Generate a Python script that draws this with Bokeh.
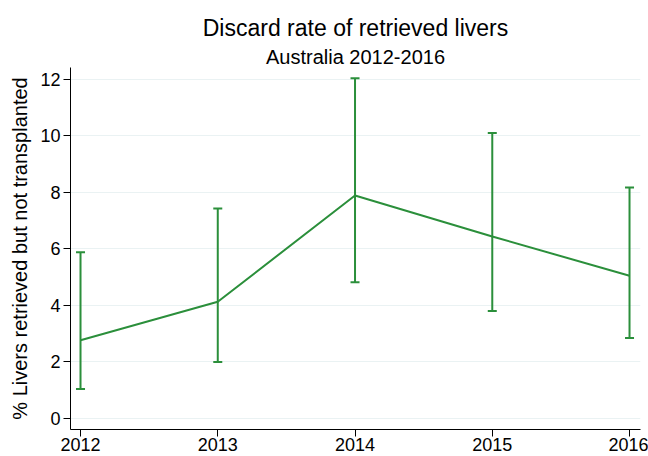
from bokeh.plotting import figure
from bokeh.models import ColumnDataSource, Whisker, TeeHead, Title, Range1d
from bokeh.embed import file_html
from bokeh.resources import INLINE

years = [2012, 2013, 2014, 2015, 2016]
rate = [2.77, 4.13, 7.89, 6.44, 5.05]
lower = [1.04, 2.0, 4.82, 3.8, 2.85]
upper = [5.88, 7.43, 12.04, 10.1, 8.17]
y_ticks = [0, 2, 4, 6, 8, 10, 12]

GREEN = "#2b8f3b"
FONT = "Liberation Sans"

src = ColumnDataSource(dict(x=years, y=rate, lo=lower, hi=upper))

p = figure(frame_width=570, frame_height=362, output_backend="svg", toolbar_location=None,
           x_range=Range1d(2011.927, 2016.08), y_range=Range1d(-0.39, 12.42),
           min_border_left=70, min_border_right=8, min_border_top=67, min_border_bottom=27)

p.title = None
sub = Title(text="Australia 2012-2016", align="center", text_font=FONT,
            text_font_size="20px", text_font_style="normal", text_color="#000000",
            standoff=0)
ttl = Title(text="Discard rate of retrieved livers", align="center", text_font=FONT,
            text_font_size="23px", text_font_style="normal", text_color="#000000",
            standoff=5)
p.add_layout(sub, "above")
p.add_layout(ttl, "above")

p.line("x", "y", source=src, line_color=GREEN, line_width=2)
w = Whisker(source=src, base="x", lower="lo", upper="hi", line_color=GREEN, line_width=2,
            lower_head=TeeHead(size=9, line_color=GREEN, line_width=2),
            upper_head=TeeHead(size=9, line_color=GREEN, line_width=2))
p.add_layout(w)

p.outline_line_color = None
p.background_fill_color = "white"
p.border_fill_color = "white"

p.xgrid.grid_line_color = None
p.ygrid.grid_line_color = "#eaf2f3"
p.ygrid.grid_line_width = 1
p.yaxis.ticker = y_ticks
p.xaxis.ticker = years

for ax in (p.xaxis[0], p.yaxis[0]):
    ax.axis_line_color = "#000000"
    ax.axis_line_width = 1
    ax.major_tick_line_color = "#000000"
    ax.major_tick_out = 7
    ax.major_tick_in = 0
    ax.minor_tick_line_color = None
    ax.major_label_text_font = FONT
    ax.major_label_text_font_size = "18px"
    ax.major_label_text_color = "#000000"

p.xaxis.major_label_standoff = 1
p.yaxis.major_label_standoff = 3
p.yaxis.axis_label = "% Livers retrieved but not transplanted"
p.yaxis.axis_label_text_font = FONT
p.yaxis.axis_label_text_font_size = "20px"
p.yaxis.axis_label_text_font_style = "normal"
p.yaxis.axis_label_text_color = "#000000"
p.yaxis.axis_label_standoff = 6

open("out.html", "w").write(file_html(p, INLINE))
